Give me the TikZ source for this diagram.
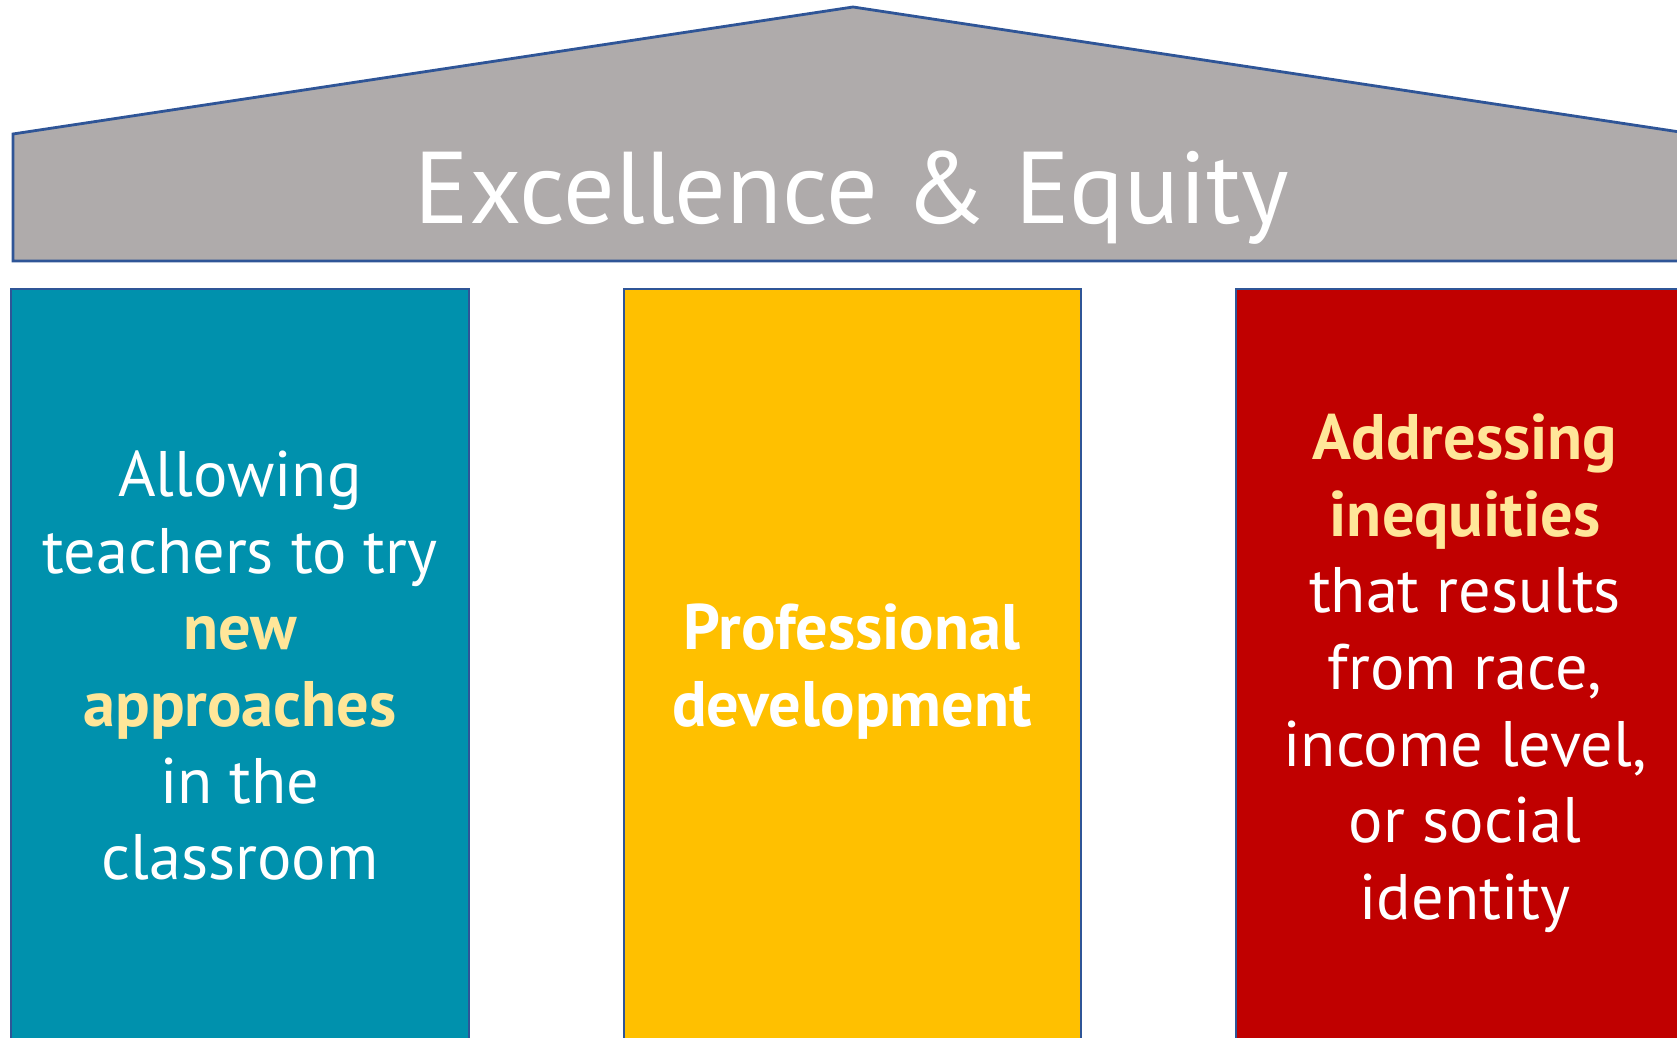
\documentclass[tikz,border=0pt]{standalone}
\usepackage{fontspec}
\setmainfont{PT Sans}
\definecolor{roofgray}{RGB}{175, 171, 171}
\definecolor{edgeblue}{RGB}{47, 85, 151}
\definecolor{tealpillar}{RGB}{0, 145, 173}
\definecolor{goldpillar}{RGB}{255, 192, 0}
\definecolor{redpillar}{RGB}{192, 0, 0}
\definecolor{keygold}{RGB}{255, 230, 153}
\usetikzlibrary{positioning}
\newcommand{\keyword}[1]{\textbf{\textcolor{keygold}{#1}}}

\tikzset{
  pillar/.style={draw=edgeblue, line width=0.8pt},
  pillartext/.style={text=white, align=center, inner sep=0pt, anchor=north, font=\fontsize{18.3}{21.8}\selectfont},
}

\begin{document}
\begin{tikzpicture}[x=0.01cm, y=-0.01cm]
  \useasboundingbox (0,0) rectangle (1677,1037);
  \clip (0,0) rectangle (1677,1037);

  % Roof
  \filldraw[pillar, fill=roofgray] (13,261) -- (13,134) -- (853,7) -- (1693,134) -- (1693,261) -- cycle;
  \node[font=\fontsize{29}{34}\selectfont, text=white, anchor=base] (title) at (852,224) {Excellence \& Equity};

  % Pillars
  \filldraw[pillar, fill=tealpillar] (11,289) rectangle (469,1060);
  \filldraw[pillar, fill=goldpillar] (624,289) rectangle (1081,1060);
  \filldraw[pillar, fill=redpillar] (1236,289) rectangle (1694,1060);

  % Pillar texts
  \node[pillartext] (tryNew) at (240,450) {Allowing\\teachers to try\\\keyword{new}\\\keyword{approaches}\\in the\\classroom};
  \node[pillartext, font=\fontsize{18.3}{21.8}\selectfont\bfseries] (profDev) at (852,603) {Professional\\development};
  \node[pillartext] (inequities) at (1465,413) {\keyword{Addressing}\\\keyword{inequities}\\that results\\from race,\\income level,\\or social\\identity};
\end{tikzpicture}
\end{document}
